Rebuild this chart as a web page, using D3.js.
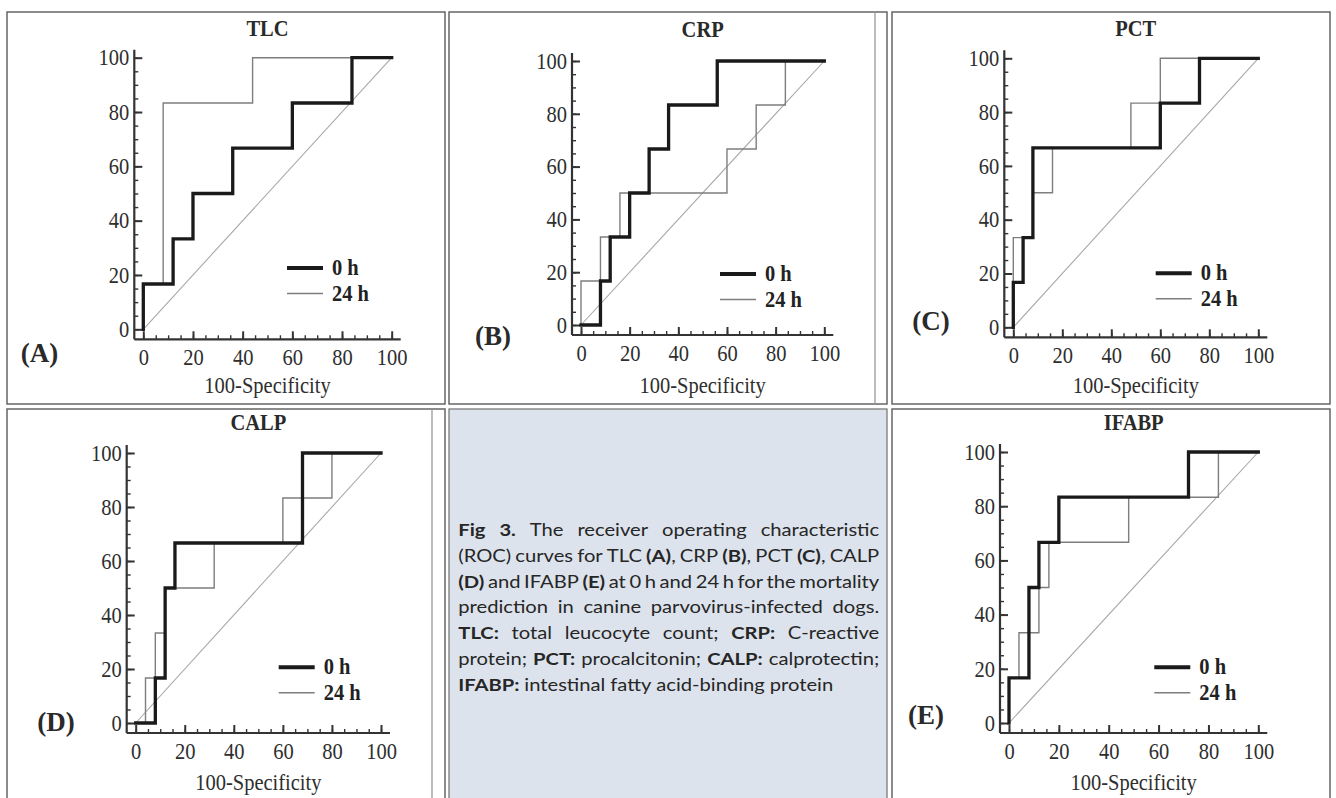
<!DOCTYPE html>
<html><head><meta charset="utf-8">
<script src="https://cdn.jsdelivr.net/npm/d3@7"></script>
<style>body{margin:0;background:#fff;overflow:hidden}</style>
</head><body>
<svg id="c" width="1336" height="798"></svg>
<script>
// ---------- data ----------
const panelTitles = ["TLC", "CRP", "PCT", "CALP", "IFABP"];
const panelLetters = ["(A)", "(B)", "(C)", "(D)", "(E)"];
const seriesNames = ["0 h", "24 h"];
const xTicks = [0, 20, 40, 60, 80, 100];
const yTicks = [0, 20, 40, 60, 80, 100];
const axisLabel = "100-Specificity";
const diagonal = [[0, 0], [100, 100]];

// ROC vertices: [100-Specificity, Sensitivity]
const tlc0h  = [[0,0],[0,16.67],[12,16.67],[12,33.33],[20,33.33],[20,50],[36,50],[36,66.67],[60,66.67],[60,83.33],[84,83.33],[84,100],[100,100]];
const tlc24h = [[0,0],[0,16.67],[8,16.67],[8,83.33],[44,83.33],[44,100],[100,100]];
const crp0h  = [[0,0],[8,0],[8,16.67],[12,16.67],[12,33.33],[20,33.33],[20,50],[28,50],[28,66.67],[36,66.67],[36,83.33],[56,83.33],[56,100],[100,100]];
const crp24h = [[0,0],[0,16.67],[8,16.67],[8,33.33],[16,33.33],[16,50],[60,50],[60,66.67],[72,66.67],[72,83.33],[84,83.33],[84,100],[100,100]];
const pct0h  = [[0,0],[0,16.67],[4,16.67],[4,33.33],[8,33.33],[8,66.67],[60,66.67],[60,83.33],[76,83.33],[76,100],[100,100]];
const pct24h = [[0,0],[0,33.33],[8,33.33],[8,50],[16,50],[16,66.67],[48,66.67],[48,83.33],[60,83.33],[60,100],[100,100]];
const calp0h  = [[0,0],[8,0],[8,16.67],[12,16.67],[12,50],[16,50],[16,66.67],[68,66.67],[68,100],[100,100]];
const calp24h = [[0,0],[4,0],[4,16.67],[8,16.67],[8,33.33],[12,33.33],[12,50],[32,50],[32,66.67],[60,66.67],[60,83.33],[80,83.33],[80,100],[100,100]];
const ifabp0h  = [[0,0],[0,16.67],[8,16.67],[8,50],[12,50],[12,66.67],[20,66.67],[20,83.33],[72,83.33],[72,100],[100,100]];
const ifabp24h = [[0,0],[0,16.67],[4,16.67],[4,33.33],[12,33.33],[12,50],[16,50],[16,66.67],[48,66.67],[48,83.33],[84,83.33],[84,100],[100,100]];

const captionLines = [
  "**Fig 3.** The receiver operating characteristic",
  "(ROC) curves for TLC **(A)**, CRP **(B)**, PCT **(C)**, CALP",
  "**(D)** and IFABP **(E)** at 0 h and 24 h for the mortality",
  "prediction in canine parvovirus-infected dogs.",
  "**TLC:** total leucocyte count; **CRP:** C-reactive",
  "protein; **PCT:** procalcitonin; **CALP:** calprotectin;",
  "**IFABP:** intestinal fatty acid-binding protein"
];

// ---------- layout (pixels) ----------
const layout = [
  {box:[7,12,445,404],   inner:null, x0:143.3, x1:391.7, yTop:57.7, yBot:329.3, title:36,   lab:[39.5,362], leg:[287,268],    xl:393},
  {box:[449,12,887,404], inner:875,  x0:581,   x1:824.3, yTop:61,   yBot:325,   title:36.7, lab:[493,345],  leg:[720,274],    xl:393},
  {box:[892,12,1330,404],inner:null, x0:1013.3,x1:1258.3,yTop:58.3, yBot:327.3, title:36,   lab:[931,330],  leg:[1155.7,273.3],xl:393},
  {box:[7,409,445,810],  inner:432,  x0:135.7, x1:381,   yTop:453,  yBot:723,   title:430.3,lab:[56,731],   leg:[278.7,667.3],xl:790},
  {box:[892,409,1330,810],inner:null,x0:1009,  x1:1258.3,yTop:452,  yBot:723,   title:430.3,lab:[926,724],  leg:[1154.3,667.3],xl:790}
];
const panelSeries = [[tlc0h, tlc24h],[crp0h, crp24h],[pct0h, pct24h],[calp0h, calp24h],[ifabp0h, ifabp24h]];

const SERIF = "'Liberation Serif','Times New Roman',serif";
const SY = 1.1;
const FS = 20.5;
const svg = d3.select("#c");

function stext(g, x, y, str, o) {
  return g.append("text")
    .attr("transform", `translate(${x},${y}) scale(1,${o.sy || SY})`)
    .attr("text-anchor", o.anchor || "start")
    .attr("font-family", SERIF)
    .attr("font-size", o.size || FS)
    .attr("font-weight", o.bold ? "bold" : "normal")
    .attr("fill", o.fill || "#2e2e2e")
    .text(str);
}

panelTitles.forEach((title, i) => {
  const L = layout[i];
  const g = svg.append("g");
  g.append("rect").attr("x", L.box[0]).attr("y", L.box[1])
    .attr("width", L.box[2] - L.box[0]).attr("height", L.box[3] - L.box[1])
    .attr("fill", "#fff").attr("stroke", "#666").attr("stroke-width", 1.5);
  if (L.inner) g.append("line").attr("x1", L.inner).attr("x2", L.inner)
    .attr("y1", L.box[1]).attr("y2", L.box[3]).attr("stroke", "#999").attr("stroke-width", 1.3);

  const x = d3.scaleLinear().domain([0, 100]).range([L.x0, L.x1]);
  const y = d3.scaleLinear().domain([0, 100]).range([L.yBot, L.yTop]);
  const axY = L.yBot + 10, axX = L.x0 - 9;

  // minor ticks
  g.append("g").attr("transform", `translate(0,${axY})`)
    .call(d3.axisBottom(x).tickValues(d3.range(0, 101, 5)).tickSize(-4).tickSizeOuter(0).tickFormat(""))
    .call(a => { a.select(".domain").remove(); a.selectAll("line").attr("stroke", "#333").attr("stroke-width", 1.4); });
  g.append("g").attr("transform", `translate(${axX},0)`)
    .call(d3.axisLeft(y).tickValues(d3.range(0, 101, 5)).tickSize(-4).tickSizeOuter(0).tickFormat(""))
    .call(a => { a.select(".domain").remove(); a.selectAll("line").attr("stroke", "#333").attr("stroke-width", 1.4); });

  // major ticks + labels
  g.append("g").attr("transform", `translate(0,${axY})`)
    .call(d3.axisBottom(x).tickValues(xTicks).tickSize(-8).tickSizeOuter(0).tickPadding(9))
    .call(a => {
      a.select(".domain").remove();
      a.selectAll("line").attr("stroke", "#333").attr("stroke-width", 2);
      a.selectAll("text").attr("font-family", SERIF).attr("font-size", FS).attr("fill", "#2e2e2e")
        .attr("transform", `scale(1,${SY})`);
    });
  g.append("g").attr("transform", `translate(${axX},0)`)
    .call(d3.axisLeft(y).tickValues(yTicks).tickSize(-8).tickSizeOuter(0).tickPadding(5))
    .call(a => {
      a.select(".domain").remove();
      a.selectAll("line").attr("stroke", "#333").attr("stroke-width", 2);
      a.selectAll("text").attr("font-family", SERIF).attr("font-size", FS).attr("fill", "#2e2e2e")
        .attr("transform", `scale(1,${SY})`);
    });

  // axis lines
  g.append("line").attr("x1", axX).attr("x2", L.x1 + 9).attr("y1", axY).attr("y2", axY)
    .attr("stroke", "#333").attr("stroke-width", 2.2);
  g.append("line").attr("x1", axX).attr("x2", axX).attr("y1", L.yTop - 8).attr("y2", axY)
    .attr("stroke", "#333").attr("stroke-width", 2.2);

  const line = d3.line().x(d => x(d[0])).y(d => y(d[1]));
  g.append("path").attr("d", line(diagonal)).attr("fill", "none").attr("stroke", "#a8a8a8").attr("stroke-width", 1.1);
  const [s0, s24] = panelSeries[i];
  g.append("path").attr("d", line(s24)).attr("fill", "none").attr("stroke", "#7e7e7e")
    .attr("stroke-width", 1.4);
  g.append("path").attr("d", line(s0)).attr("fill", "none").attr("stroke", "#1a1a1a")
    .attr("stroke-width", 3.3).attr("stroke-linejoin", "miter").attr("stroke-linecap", "square");

  // legend
  const [lx, ly] = L.leg;
  g.append("line").attr("x1", lx).attr("x2", lx + 36).attr("y1", ly).attr("y2", ly)
    .attr("stroke", "#1a1a1a").attr("stroke-width", 4);
  g.append("line").attr("x1", lx).attr("x2", lx + 36).attr("y1", ly + 25.5).attr("y2", ly + 25.5)
    .attr("stroke", "#7e7e7e").attr("stroke-width", 1.4);
  stext(g, lx + 45, ly + 7, seriesNames[0], {bold: true, size: 20.5, fill: "#222"});
  stext(g, lx + 45, ly + 32.5, seriesNames[1], {bold: true, size: 20.5, fill: "#222"});

  // texts
  const cx = (L.x0 + L.x1) / 2;
  stext(g, cx, L.title, title, {bold: true, anchor: "middle", fill: "#2a2a2a"});
  stext(g, L.lab[0], L.lab[1], panelLetters[i], {bold: true, anchor: "middle", size: 27, sy: 1.05, fill: "#2a2a2a"});
  stext(g, cx, L.xl, axisLabel, {anchor: "middle"});
});

// ---------- caption ----------
svg.append("rect").attr("x", 449).attr("y", 409).attr("width", 438).attr("height", 400)
  .attr("fill", "#dde3ec").attr("stroke", "#7a7a7a").attr("stroke-width", 1.3);

function parseWords(s) {
  let bold = false, words = [], cur = [], buf = "";
  const flush = () => { if (buf) { cur.push([buf, bold]); buf = ""; } };
  for (let i = 0; i < s.length; i++) {
    if (s[i] === "*" && s[i + 1] === "*") { flush(); bold = !bold; i++; continue; }
    if (s[i] === " ") { flush(); if (cur.length) words.push(cur); cur = []; continue; }
    buf += s[i];
  }
  flush(); if (cur.length) words.push(cur);
  return words;
}
const SANS = "Lato,'Open Sans',sans-serif";
function wordWidth(runs, fs) {
  const t = svg.append("text").attr("font-family", SANS).attr("font-size", fs);
  runs.forEach(r => t.append("tspan").attr("font-weight", r[1] ? "bold" : "normal").text(r[0]));
  const w = t.node().getComputedTextLength();
  t.remove();
  return w;
}
const capLeft = 458.3, capRight = 879.3, capW = capRight - capLeft;
// fit font size so the last (unjustified) line is as wide as in the figure
let fs = 16;
{
  const ws = parseWords(captionLines[captionLines.length - 1]);
  const tot = d3.sum(ws, w => wordWidth(w, fs)) + (ws.length - 1) * fs * 0.24;
  fs = fs * 375 / tot;
}
const capSY = 12.7 / (0.72 * fs);
captionLines.forEach((ln, i) => {
  const ws = parseWords(ln);
  const widths = ws.map(w => wordWidth(w, fs));
  const sum = d3.sum(widths);
  const last = i === captionLines.length - 1;
  const gap = last ? fs * 0.24 : (capW - sum) / (ws.length - 1);
  const t = svg.append("text")
    .attr("transform", `translate(${capLeft},${536.3 + i * 25.73}) scale(1,${capSY})`)
    .attr("font-family", SANS).attr("font-size", fs).attr("fill", "#262626");
  let cx = 0;
  ws.forEach((w, k) => {
    w.forEach((r, j) => {
      const ts = t.append("tspan").attr("font-weight", r[1] ? "bold" : "normal").text(r[0]);
      if (j === 0) ts.attr("x", cx);
    });
    cx += widths[k] + gap;
  });
});
</script>
</body></html>
